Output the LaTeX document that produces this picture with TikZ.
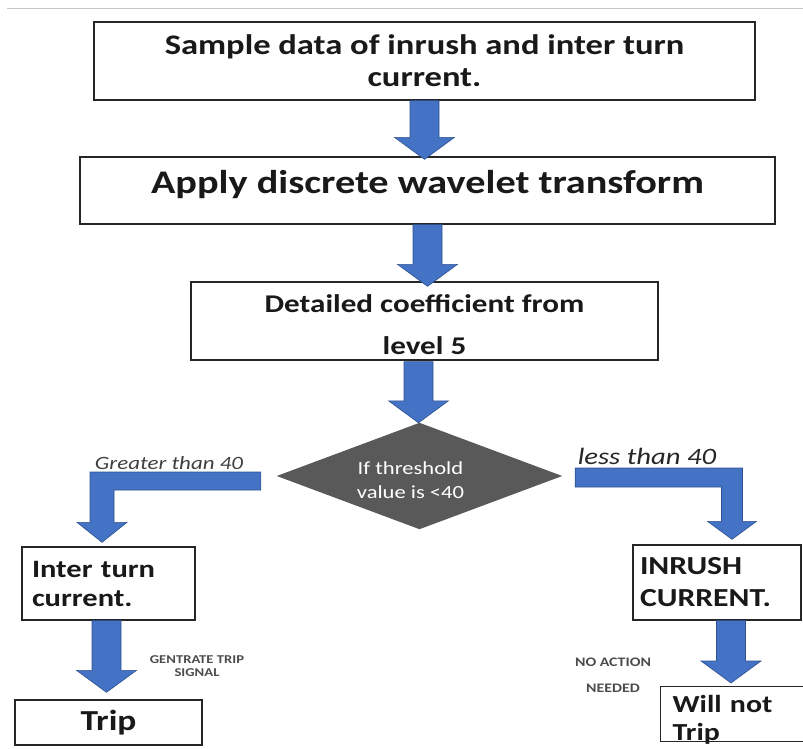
\documentclass[tikz,border=0pt]{standalone}
\usepackage{fontspec}
\setmainfont{Carlito}[FakeStretch=1.22]
\usetikzlibrary{calc}
\definecolor{arrowblue}{HTML}{4472C4}
\definecolor{arrowedge}{HTML}{2F528F}
\definecolor{decisiongray}{HTML}{595959}
\definecolor{inkgray}{HTML}{404040}
\tikzset{
  box/.style={draw=black!85, line width=1.3pt, fill=white, inner sep=0pt, text=black!90},
  blk/.style={fill=arrowblue, draw=arrowedge, line width=0.6pt, line join=miter},
  note/.style={inner sep=0pt, align=center},
}
% downward block arrow: shaft under the first point, tip at the height of the second
\newcommand\blockdown[2]{%
  \path[blk] let \p1=#1, \p2=#2 in
    (\x1-14.5pt,\y1) -- (\x1-14.5pt,\y2+22pt) -- (\x1-30pt,\y2+22pt) -- (\x1,\y2)
    -- (\x1+30pt,\y2+22pt) -- (\x1+14.5pt,\y2+22pt) -- (\x1+14.5pt,\y1) -- cycle;}

\begin{document}
\begin{tikzpicture}[x=1pt,y=-1pt]
\useasboundingbox (0,0) rectangle (803,749);
\clip (0,0) rectangle (803,749);

% thin rule along the top
\draw[gray!45, line width=1.5pt] (7,8.5) -- (803,8.5);

% process boxes
\node[box, minimum width=661, minimum height=78, align=center,
      font=\bfseries\fontsize{28.3}{32}\selectfont] (b1) at (424.5,61)
      {Sample data of inrush and inter turn\\current.};
\node[box, minimum width=695, minimum height=67, text depth=17pt,
      font=\bfseries\fontsize{33}{38}\selectfont] (b2) at (427.5,190.5)
      {Apply discrete wavelet transform};
\node[box, minimum width=467, minimum height=78, align=center,
      font=\bfseries\fontsize{25.5}{42}\selectfont] (b3) at (424.5,321)
      {\rule{0pt}{25pt}Detailed coefficient from\\level 5};

% decision
\node[minimum width=285, minimum height=106, inner sep=0pt] (dia) at (419.5,476) {};
\fill[decisiongray] (dia.north) -- (dia.east) -- (dia.south) -- (dia.west) -- cycle;
\node[note, text=white, font=\fontsize{18.5}{24}\selectfont] (diatxt)
      at ($(dia.center)+(-9,4)$) {If threshold\\value is <40};

% outcome boxes
\node[box, minimum height=73, text width=153pt, inner xsep=10pt, align=left,
      font=\bfseries\fontsize{25}{29}\selectfont] (inter) at (108.5,583.5)
      {Inter turn\\current.};
\node[box, minimum width=187, minimum height=45,
      font=\bfseries\fontsize{29}{32}\selectfont] (trip) at (108.5,722.5) {Trip};
\node[box, minimum height=75, text width=154pt, inner xsep=7pt, align=left,
      font=\bfseries\fontsize{26}{32}\selectfont] (inrush) at (717,582.5)
      {INRUSH\\CURRENT.};
\node[box, anchor=north west, text width=148pt, inner xsep=12pt, inner ysep=9pt,
      text depth=20pt, align=left,
      font=\bfseries\fontsize{24.5}{28}\selectfont] (willnot) at (660,686)
      {Will not\\Trip};

% straight block arrows
\blockdown{(b1.south)}{($(b2.north)+(0,3)$)}
\blockdown{(b2.south)}{($(b3.north)+(0,5)$)}
\blockdown{($(b3.south)+(-6,1)$)}{(dia.north)}
\blockdown{($(inter.south)+(-2,0)$)}{($(trip.north)+(0,-7)$)}
\blockdown{($(inrush.south)+(14,0)$)}{($(willnot.north)+(0,-3)$)}

% bent arrow to the left branch
\path[blk] let \p1=($(dia.west)+(-16,5)$), \p2=($(inter.north)+(-6.5,-4)$) in
  (\x1,\y1+9pt) -- (\x2-12pt,\y1+9pt) -- (\x2-12pt,\y2+20pt) -- (\x2-25pt,\y2+20pt)
  -- (\x2,\y2) -- (\x2+25pt,\y2+20pt) -- (\x2+12pt,\y2+20pt) -- (\x2+12pt,\y1-9pt)
  -- (\x1,\y1-9pt) -- cycle;
% bent arrow to the right branch
\path[blk] let \p1=($(dia.east)+(13,1.5)$), \p2=($(inrush.north)+(15,-5)$) in
  (\x1,\y1+9.5pt) -- (\x2+10.5pt,\y1+9.5pt) -- (\x2+10.5pt,\y2+18pt) -- (\x2+24.5pt,\y2+18pt)
  -- (\x2,\y2) -- (\x2-24.5pt,\y2+18pt) -- (\x2-10.5pt,\y2+18pt) -- (\x2-10.5pt,\y1-9.5pt)
  -- (\x1,\y1-9.5pt) -- cycle;

% branch labels
\node[note, text=inkgray, font=\itshape\fontsize{18.8}{20}\selectfont] (lgt) at (169,463) {Greater than 40};
\node[note, text=black!85, font=\itshape\fontsize{23.5}{24}\selectfont] (llt) at (647,456) {less than 40};
\node[note, text=black!70, font=\bfseries\fontsize{12}{12.5}\selectfont] (lsig) at (197,666) {GENTRATE TRIP\\SIGNAL};
\node[note, text=black!70, font=\bfseries\fontsize{13}{26}\selectfont] (lnone) at (613,675) {NO ACTION\\NEEDED};
\end{tikzpicture}
\end{document}
